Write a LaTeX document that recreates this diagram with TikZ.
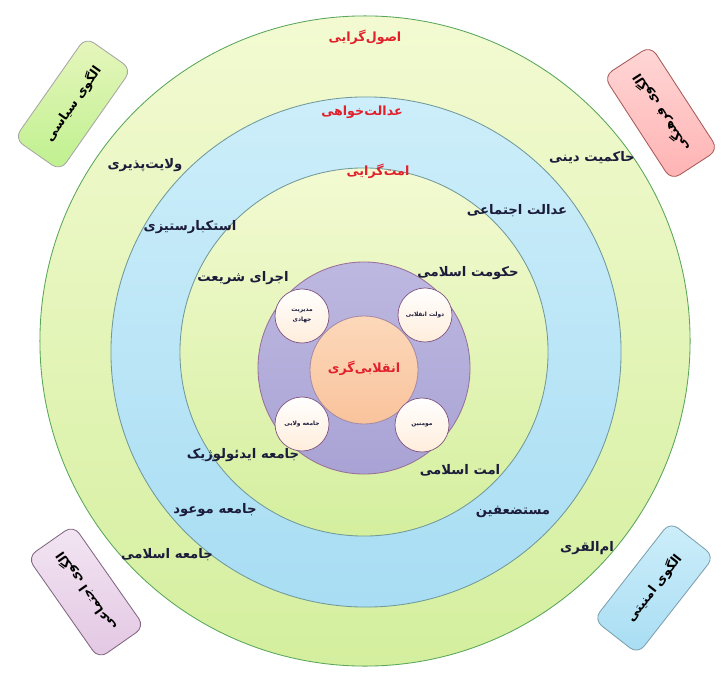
\documentclass[tikz,border=0pt]{standalone}
\usepackage{fontspec}
\newfontfamily\arabicfont[Script=Arabic]{DejaVu Sans}
\TeXXeTstate=1
\usetikzlibrary{shapes.geometric}
\newcommand{\fatext}[1]{\beginR #1\endR}
\definecolor{titlered}{HTML}{E2202C}
\definecolor{inkblue}{HTML}{1B1B3A}
\definecolor{limetop}{HTML}{F3FAD2}
\definecolor{limebot}{HTML}{D4EF9E}
\definecolor{skytop}{HTML}{CDEEFA}
\definecolor{skybot}{HTML}{A8DDF3}
\definecolor{lilactop}{HTML}{BDB8E0}
\definecolor{lilacbot}{HTML}{A9A3D5}
\definecolor{peachtop}{HTML}{FCD8BA}
\definecolor{peachbot}{HTML}{F9C39C}
\tikzstyle{ring} = [circle, inner sep=0pt, line width=0.6pt]
\tikzstyle{title} = [text=titlered, font=\arabicfont\bfseries\fontsize{9}{11}\selectfont]
\tikzstyle{lbl} = [text=inkblue, font=\arabicfont\bfseries\fontsize{9.4}{11}\selectfont]
\tikzstyle{pill} = [circle, draw=gray!65!violet, line width=0.5pt, top color=white, bottom color=orange!14, minimum size=1.35cm, inner sep=0pt, align=center, text=inkblue, font=\arabicfont\bfseries\fontsize{4.2}{6}\selectfont]
\tikzstyle{model} = [rectangle, rounded corners=0.25cm, minimum width=3.1cm, minimum height=1.4cm, line width=0.6pt, text=black, font=\arabicfont\bfseries\fontsize{9}{11}\selectfont]

\begin{document}
\begin{tikzpicture}[x=0.025cm, y=-0.025cm]
\useasboundingbox[fill=white] (0,0) rectangle (721,675);
% rings
\node (usul) [ring, draw=gray!70!green, top color=limetop, bottom color=limebot, minimum size=16.25cm] at (365,341) {};
\node (edalat) [ring, draw=teal!40!gray!80, top color=skytop, bottom color=skybot, minimum size=12.75cm] at (366,352) {};
\node (ommat) [ring, draw=teal!40!gray!80, top color=limetop, bottom color=limebot, minimum size=9.2cm] at (364,352) {};
\node (band) [ring, draw=violet!40!gray!80, top color=lilactop, bottom color=lilacbot, minimum size=5.3cm] at (364,368) {};
\node (core) [ring, draw=violet!30!gray!70, top color=peachtop, bottom color=peachbot, minimum size=2.7cm] at (364,370) {};
% ring titles
\node (t1) [title] at (365,37) {\fatext{اصول‌گرایی}};
\node (t2) [title] at (362,112) {\fatext{عدالت‌خواهی}};
\node (t3) [title] at (378,171) {\fatext{امت‌گرایی}};
\node (t4) [title] at (364,368) {\fatext{انقلابی‌گری}};
% outer ring
\node (a1) [lbl] at (145,165) {\fatext{ولایت‌پذیری}};
\node (a2) [lbl] at (592,158) {\fatext{حاکمیت دینی}};
\node (a3) [lbl] at (167,555) {\fatext{جامعه اسلامی}};
\node (a4) [lbl] at (587,548) {\fatext{ام‌القری}};
% blue ring
\node (b1) [lbl] at (190,227) {\fatext{استکبارستیزی}};
\node (b2) [lbl] at (517,211) {\fatext{عدالت اجتماعی}};
\node (b3) [lbl] at (215,510) {\fatext{جامعه موعود}};
\node (b4) [lbl] at (513,512) {\fatext{مستضعفین}};
% inner ring
\node (c1) [lbl] at (243,278) {\fatext{اجرای شریعت}};
\node (c2) [lbl] at (468,273) {\fatext{حکومت اسلامی}};
\node (c3) [lbl] at (243,455) {\fatext{جامعه ایدئولوژیک}};
\node (c4) [lbl] at (460,470) {\fatext{امت اسلامی}};
% small circles
\node (p1) [pill] at (302,316) {\fatext{مدیریت}\\[1pt]\fatext{جهادی}};
\node (p2) [pill] at (425,315) {\fatext{دولت انقلابی}};
\node (p3) [pill] at (302,424) {\fatext{جامعه ولایی}};
\node (p4) [pill] at (422,425) {\fatext{مومنین}};
% models
\node (m1) [model, rotate=55, draw=gray!70, top color=limetop!60!limebot, bottom color=limebot!90!green] at (73,104) {\fatext{الگوی سیاسی}};
\node (m2) [model, rotate=123, draw=gray!70!red, top color=red!16, bottom color=red!30] at (661,113) {\fatext{الگوی فرهنگی}};
\node (m3) [model, rotate=125, draw=gray!80!violet, top color=violet!10, bottom color=violet!22] at (86,592) {\fatext{الگوی اجتماعی}};
\node (m4) [model, rotate=52, draw=gray!70!cyan, top color=skytop, bottom color=skybot] at (654,588) {\fatext{الگوی امنیتی}};
\end{tikzpicture}
\end{document}
